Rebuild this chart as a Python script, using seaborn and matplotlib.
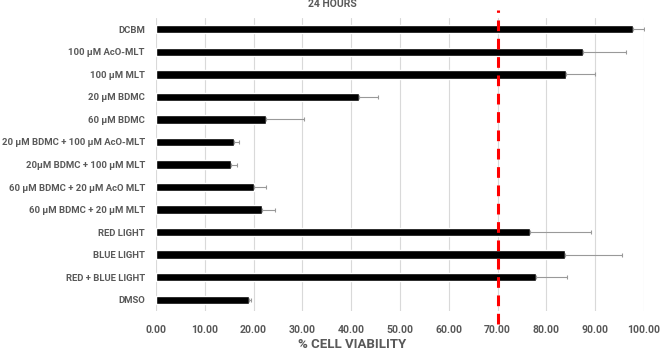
import matplotlib
matplotlib.use("Agg")
import matplotlib.pyplot as plt
import seaborn as sns
import pandas as pd
import numpy as np

categories = [
    "DCBM",
    "100 µM AcO-MLT",
    "100 µM MLT",
    "20 µM BDMC",
    "60 µM BDMC",
    "20 µM BDMC + 100 µM AcO-MLT",
    "20µM BDMC + 100 µM MLT",
    "60 µM BDMC + 20 µM AcO MLT",
    "60 µM BDMC + 20 µM MLT",
    "RED LIGHT",
    "BLUE LIGHT",
    "RED + BLUE LIGHT",
    "DMSO",
]
viability = [97.8, 87.5, 84.1, 41.6, 22.6, 15.9, 15.4, 20.0, 21.7, 76.6, 83.8, 77.8, 19.0]
errors = [2.2, 8.8, 5.9, 3.9, 7.8, 1.1, 1.2, 2.6, 2.7, 12.5, 11.7, 6.4, 0.4]
threshold = 70.0
xticks = [0, 10, 20, 30, 40, 50, 60, 70, 80, 90, 100]
title = "24 HOURS"
xlabel = "% CELL VIABILITY"

df = pd.DataFrame({"cat": categories, "val": viability, "err": errors})

sns.set_theme(style="white")
plt.rcParams["font.family"] = ["Roboto", "DejaVu Sans"]
gray = "#595959"

fig = plt.figure(figsize=(6.61, 3.52), dpi=100)
ax = fig.add_axes([156 / 661, 1 - 311 / 352, (644 - 156) / 661, (311 - 18) / 352])

sns.barplot(data=df, x="val", y="cat", order=categories, color="black",
            width=0.37, ax=ax, errorbar=None, saturation=1)

ypos = np.arange(len(categories))
ax.errorbar(df["val"], ypos, xerr=[np.zeros(len(errors)), df["err"]],
            fmt="none", ecolor="#999999", elinewidth=0.8, capsize=1.5, capthick=0.8)

ax.set_xlim(0, 100)
ax.set_ylim(len(categories) - 0.5, -0.5)
ax.set_xticks(xticks)
ax.set_xticklabels([f"{v:.2f}" for v in xticks])
ax.grid(axis="x", color="#d9d9d9", linewidth=0.8)
ax.set_axisbelow(True)
for s in ax.spines.values():
    s.set_visible(False)
ax.tick_params(axis="x", length=0, pad=10, labelsize=7.6, labelcolor=gray)
ax.tick_params(axis="y", length=0, pad=8, labelsize=6.8, labelcolor=gray)
for lab in ax.get_xticklabels() + ax.get_yticklabels():
    lab.set_fontweight("bold")
ax.set_xlabel("")
ax.set_ylabel("")

ymax = (311 - 10) / 293
ymin = (311 - 324) / 293
ax.axvline(threshold, ymin=ymin, ymax=ymax, color="#ff0000", linewidth=2.2,
           linestyle=(0, (3.5, 2.5)), clip_on=False, zorder=5)

fig.text(332 / 661, 1 - 4 / 352, title, ha="center", va="center",
         fontsize=7.5, fontweight="bold", color=gray)
fig.text(352 / 661, 1 - 345 / 352, xlabel, ha="center", va="center",
         fontsize=9.5, fontweight="bold", color=gray)

fig.savefig("out.png", dpi=100)
